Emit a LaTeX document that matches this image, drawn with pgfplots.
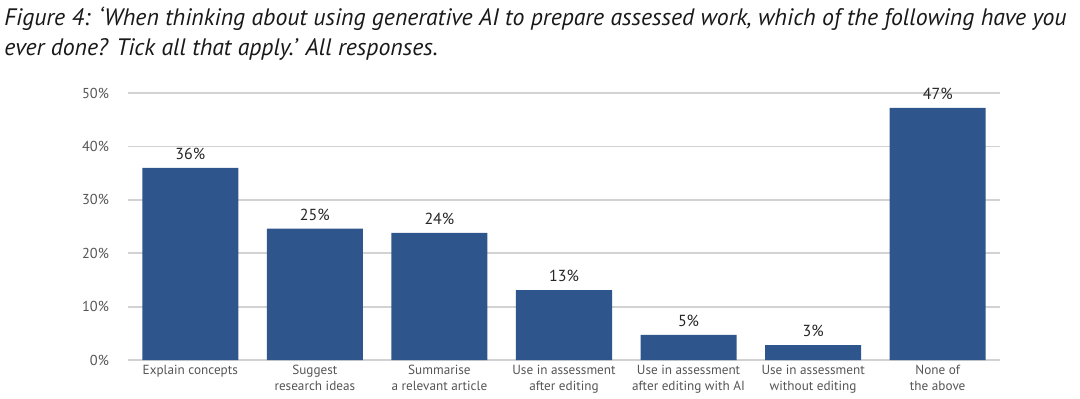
\documentclass[border=0pt]{standalone}
\usepackage{fontspec}
\setmainfont{PT Sans}
\usepackage{pgfplots}
\pgfplotsset{compat=1.18}
\definecolor{barblue}{RGB}{46,86,140}
\definecolor{ticktext}{RGB}{85,85,85}
\definecolor{gridgray}{RGB}{210,210,210}
\begin{document}
\begin{tikzpicture}
\path[use as bounding box] (-64pt,-19pt) rectangle (476pt,180pt);
\node[anchor=north west, align=left, font=\fontsize{11.9}{15}\selectfont\itshape, text=black!90, inner sep=0pt] at (-62pt,176.5pt)
{Figure 4: ‘When thinking about using generative AI to prepare assessed work, which of the following have you\\ever done? Tick all that apply.’ All responses.};
\begin{axis}[
  at={(0,0)}, anchor=south west,
  scale only axis, width=436pt, height=133.5pt,
  xmin=-0.5, xmax=6.5, ymin=0, ymax=50,
  ybar, bar width=48pt,
  axis y line*=left,
  y axis line style={draw=none},
  axis x line*=bottom,
  x axis line style={-, draw=gridgray, line width=0.9pt},
  ytick={0,10,20,30,40,50},
  ymajorgrids, grid style={draw=gridgray, line width=0.9pt},
  /pgf/number format/assume math mode=true,
  yticklabel={\pgfmathprintnumber{\tick}\%},
  yticklabel style={font=\fontsize{7.2}{8}\selectfont, text=ticktext, xshift=-6pt},
  xtick=data, major tick length=0pt,
  xticklabels={{Explain concepts},{Suggest\\research ideas},{Summarise\\a relevant article},{Use in assessment\\after editing},{Use in assessment\\after editing with AI},{Use in assessment\\without editing},{None of\\the above}},
  xticklabel style={align=center, font=\fontsize{6.6}{8}\selectfont, text=ticktext, yshift=1pt},
  nodes near coords, point meta=explicit symbolic,
  every node near coord/.append style={font=\fontsize{8}{9}\selectfont, text=black!85, yshift=0.5pt},
  clip=false,
]
\addplot[fill=barblue, draw=none] coordinates {
  (0,36.0) [36\%]
  (1,24.6) [25\%]
  (2,23.8) [24\%]
  (3,13.1) [13\%]
  (4,4.7) [5\%]
  (5,2.8) [3\%]
  (6,47.2) [47\%]
};
\end{axis}
\end{tikzpicture}
\end{document}
